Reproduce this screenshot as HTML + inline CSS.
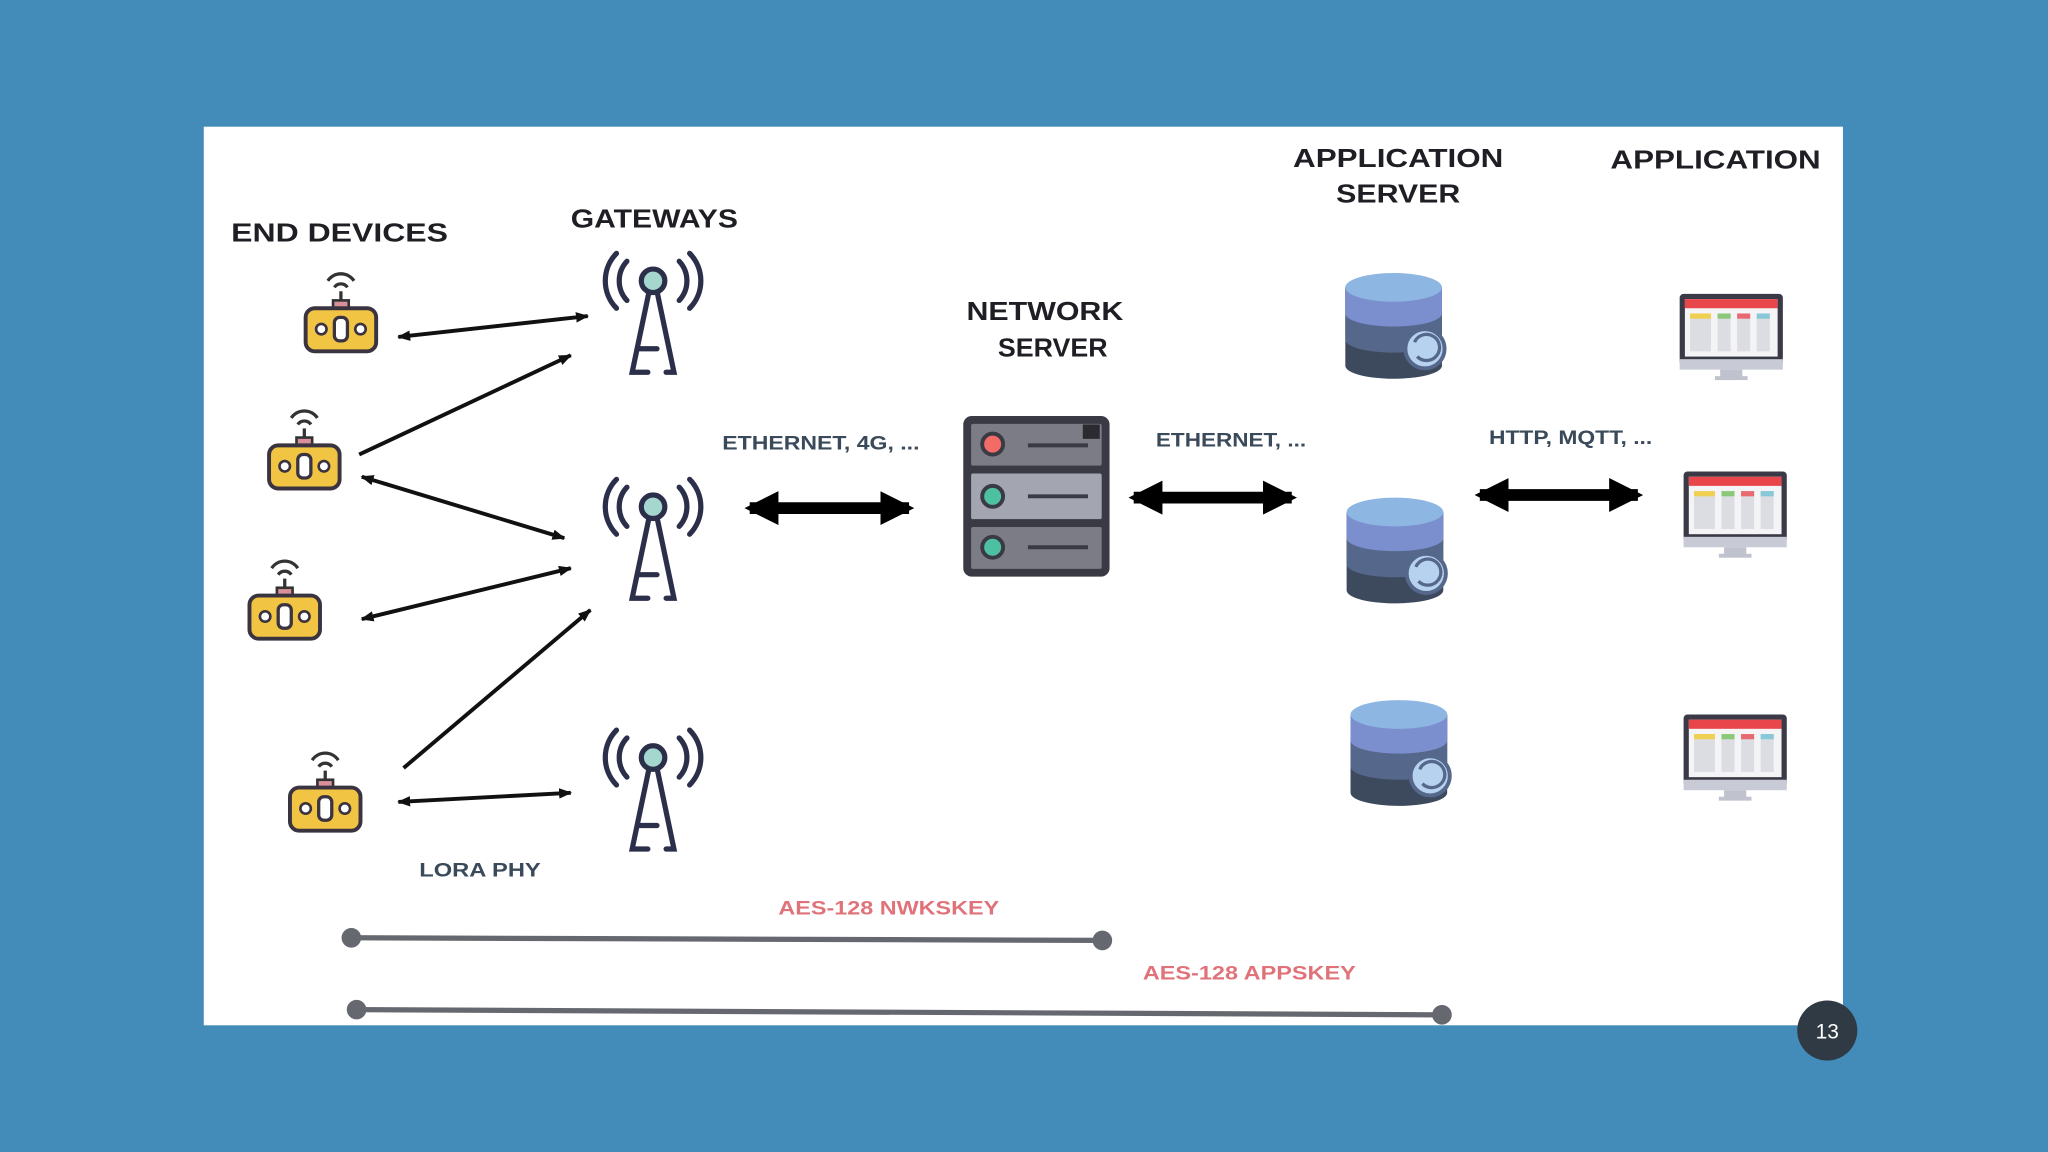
<!DOCTYPE html>
<html><head><meta charset="utf-8"><style>
html,body{margin:0;padding:0;background:#438bb8;}
svg{display:block}
text{font-family:"Liberation Sans",sans-serif;font-weight:bold;}
</style></head><body>
<svg width="2048" height="1152" viewBox="0 0 1568 882" xmlns="http://www.w3.org/2000/svg">
<defs>
<marker id="ah" markerWidth="10" markerHeight="8" refX="9" refY="4" orient="auto-start-reverse" markerUnits="userSpaceOnUse"><path d="M0,0 L10,4 L0,8 z" fill="#111"/></marker>
<marker id="bh" markerWidth="26" markerHeight="26" refX="22" refY="13" orient="auto-start-reverse" markerUnits="userSpaceOnUse"><path d="M0,0 L26,13 L0,26 z" fill="#000"/></marker>
<g id="dev">
<path d="M-10,-30 A12,12 0 0 1 10,-30" fill="none" stroke="#333" stroke-width="2.5"/>
<path d="M-5,-25 A6,6 0 0 1 5,-25" fill="none" stroke="#333" stroke-width="2.5"/>
<line x1="0" y1="-22" x2="0" y2="-13" stroke="#333" stroke-width="2.5"/>
<rect x="-6" y="-15" width="12" height="7" fill="#d9909a" stroke="#333" stroke-width="2"/>
<rect x="-27" y="-9" width="54" height="33" rx="7" fill="#f2c443" stroke="#3a3340" stroke-width="3"/>
<circle cx="-15" cy="7" r="4" fill="#fff" stroke="#3a3340" stroke-width="2"/>
<circle cx="15" cy="7" r="4" fill="#fff" stroke="#3a3340" stroke-width="2"/>
<rect x="-5" y="-2" width="10" height="18" rx="4" fill="#fff" stroke="#3a3340" stroke-width="2.5"/>
</g>
<g id="tow" fill="none" stroke="#2c2f4a" stroke-width="4" stroke-linecap="round">
<path d="M-20,3 A22,22 0 0 0 -20,33"/><path d="M-28,-3 A30,30 0 0 0 -28,39"/>
<path d="M20,3 A22,22 0 0 1 20,33"/><path d="M28,-3 A30,30 0 0 1 28,39"/>
<path d="M-3,26 L-16,88 L-4,88 M-12,70 L3,70"/>
<path d="M3,26 L16,88 L10,88"/>
<circle cx="0" cy="18" r="9" fill="#a6d7cf"/>
</g>
<g id="db">
<path d="M-37,0 L-37,60 A37,10 0 0 0 37,60 L37,0 z" fill="#3d4a5e"/>
<path d="M-37,0 L-37,40 A37,10 0 0 0 37,40 L37,0 z" fill="#55678a"/>
<path d="M-37,0 L-37,20 A37,10 0 0 0 37,20 L37,0 z" fill="#7b8fcf"/>
<ellipse cx="0" cy="0" rx="37" ry="11" fill="#8db6e2"/>
<circle cx="24" cy="47" r="15" fill="#b6d2ef" stroke="#55678a" stroke-width="3"/>
<path d="M16,42 A10,10 0 1 1 18,53" fill="none" stroke="#55678a" stroke-width="2.5"/>
</g>
<g id="mon">
<rect x="0" y="0" width="79" height="55" rx="3" fill="#3a3a46"/>
<rect x="4" y="4" width="71" height="44" fill="#f4f4f6"/>
<rect x="4" y="4" width="71" height="7" fill="#e8464a"/>
<rect x="8" y="15" width="16" height="29" fill="#dcdde3"/><rect x="8" y="15" width="16" height="4" fill="#f0d050"/>
<rect x="29" y="15" width="10" height="29" fill="#dcdde3"/><rect x="29" y="15" width="10" height="4" fill="#8cc87a"/>
<rect x="44" y="15" width="10" height="29" fill="#dcdde3"/><rect x="44" y="15" width="10" height="4" fill="#e86a70"/>
<rect x="59" y="15" width="10" height="29" fill="#dcdde3"/><rect x="59" y="15" width="10" height="4" fill="#88c8d8"/>
<rect x="0" y="50" width="79" height="8" fill="#c8cad6"/>
<rect x="31" y="58" width="17" height="6" fill="#c0c2ce"/><rect x="27" y="63" width="25" height="3" fill="#c0c2ce"/>
</g>
</defs>
<rect x="0" y="0" width="1568" height="882" fill="#438bb8"/>
<rect x="156" y="97" width="1255" height="688" fill="#fff"/>

<g fill="#1e1e24" font-size="20">
<text x="177" y="185" textLength="166" lengthAdjust="spacingAndGlyphs">END DEVICES</text>
<text x="437" y="174" textLength="128" lengthAdjust="spacingAndGlyphs">GATEWAYS</text>
<text x="740" y="245" textLength="120" lengthAdjust="spacingAndGlyphs">NETWORK</text>
<text x="764" y="273" textLength="84" lengthAdjust="spacingAndGlyphs">SERVER</text>
<text x="990" y="128" textLength="161" lengthAdjust="spacingAndGlyphs">APPLICATION</text>
<text x="1023" y="155" textLength="95" lengthAdjust="spacingAndGlyphs">SERVER</text>
<text x="1233" y="129" textLength="161" lengthAdjust="spacingAndGlyphs">APPLICATION</text>
</g>
<g fill="#3a4a5a" font-size="15">
<text x="553" y="344" textLength="151" lengthAdjust="spacingAndGlyphs">ETHERNET, 4G, ...</text>
<text x="885" y="342" textLength="115" lengthAdjust="spacingAndGlyphs">ETHERNET, ...</text>
<text x="1140" y="340" textLength="125" lengthAdjust="spacingAndGlyphs">HTTP, MQTT, ...</text>
<text x="321" y="671" textLength="93" lengthAdjust="spacingAndGlyphs">LORA PHY</text>
</g>
<g fill="#e0737a" font-size="15">
<text x="596" y="700" textLength="169" lengthAdjust="spacingAndGlyphs">AES-128 NWKSKEY</text>
<text x="875" y="750" textLength="163" lengthAdjust="spacingAndGlyphs">AES-128 APPSKEY</text>
</g>

<use href="#dev" x="261" y="245"/>
<use href="#dev" x="233" y="350"/>
<use href="#dev" x="218" y="465"/>
<use href="#dev" x="249" y="612"/>

<use href="#tow" x="500" y="197"/>
<use href="#tow" x="500" y="370"/>
<use href="#tow" x="500" y="562"/>

<g stroke="#111" stroke-width="3" fill="none">
<line x1="305" y1="258" x2="450" y2="242" marker-start="url(#ah)" marker-end="url(#ah)"/>
<line x1="275" y1="348" x2="437" y2="272" marker-end="url(#ah)"/>
<line x1="277" y1="365" x2="432" y2="412" marker-start="url(#ah)" marker-end="url(#ah)"/>
<line x1="277" y1="474" x2="437" y2="435" marker-start="url(#ah)" marker-end="url(#ah)"/>
<line x1="309" y1="588" x2="452" y2="467" marker-end="url(#ah)"/>
<line x1="305" y1="614" x2="437" y2="607" marker-start="url(#ah)" marker-end="url(#ah)"/>
</g>
<g stroke="#000" stroke-width="9">
<line x1="574" y1="389" x2="696" y2="389" marker-start="url(#bh)" marker-end="url(#bh)"/>
<line x1="868" y1="381" x2="989" y2="381" marker-start="url(#bh)" marker-end="url(#bh)"/>
<line x1="1133" y1="379" x2="1254" y2="379" marker-start="url(#bh)" marker-end="url(#bh)"/>
</g>

<g stroke="#3a3a44" stroke-width="3">
<rect x="739" y="320" width="109" height="120" rx="5" fill="#3a3a44"/>
<rect x="742" y="323" width="103" height="35" rx="3" fill="#7b7c86"/>
<rect x="742" y="361" width="103" height="38" rx="3" fill="#a3a5b0"/>
<rect x="742" y="402" width="103" height="35" rx="3" fill="#7b7c86"/>
<circle cx="760" cy="340" r="8" fill="#f26b66"/>
<circle cx="760" cy="380" r="8" fill="#4ec0a2"/>
<circle cx="760" cy="419" r="8" fill="#4ec0a2"/>
<line x1="787" y1="341" x2="833" y2="341"/>
<line x1="787" y1="380" x2="833" y2="380"/>
<line x1="787" y1="419" x2="833" y2="419"/>
</g>
<rect x="829" y="325" width="13" height="11" fill="#2a2a30"/>

<use href="#db" x="1067" y="220"/>
<use href="#db" x="1068" y="392"/>
<use href="#db" x="1071" y="547"/>

<use href="#mon" x="1286" y="225"/>
<use href="#mon" x="1289" y="361"/>
<use href="#mon" x="1289" y="547"/>

<g stroke="#666870" stroke-width="4" fill="#666870">
<line x1="269" y1="718" x2="844" y2="720"/>
<circle cx="269" cy="718" r="5.5"/><circle cx="844" cy="720" r="5.5"/>
<line x1="273" y1="773" x2="1104" y2="777"/>
<circle cx="273" cy="773" r="5.5"/><circle cx="1104" cy="777" r="5.5"/>
</g>

<circle cx="1399" cy="789" r="23" fill="#2f3a44"/>
<text x="1399" y="795" text-anchor="middle" fill="#fff" font-size="16" style="font-weight:normal">13</text>
</svg>
</body></html>
